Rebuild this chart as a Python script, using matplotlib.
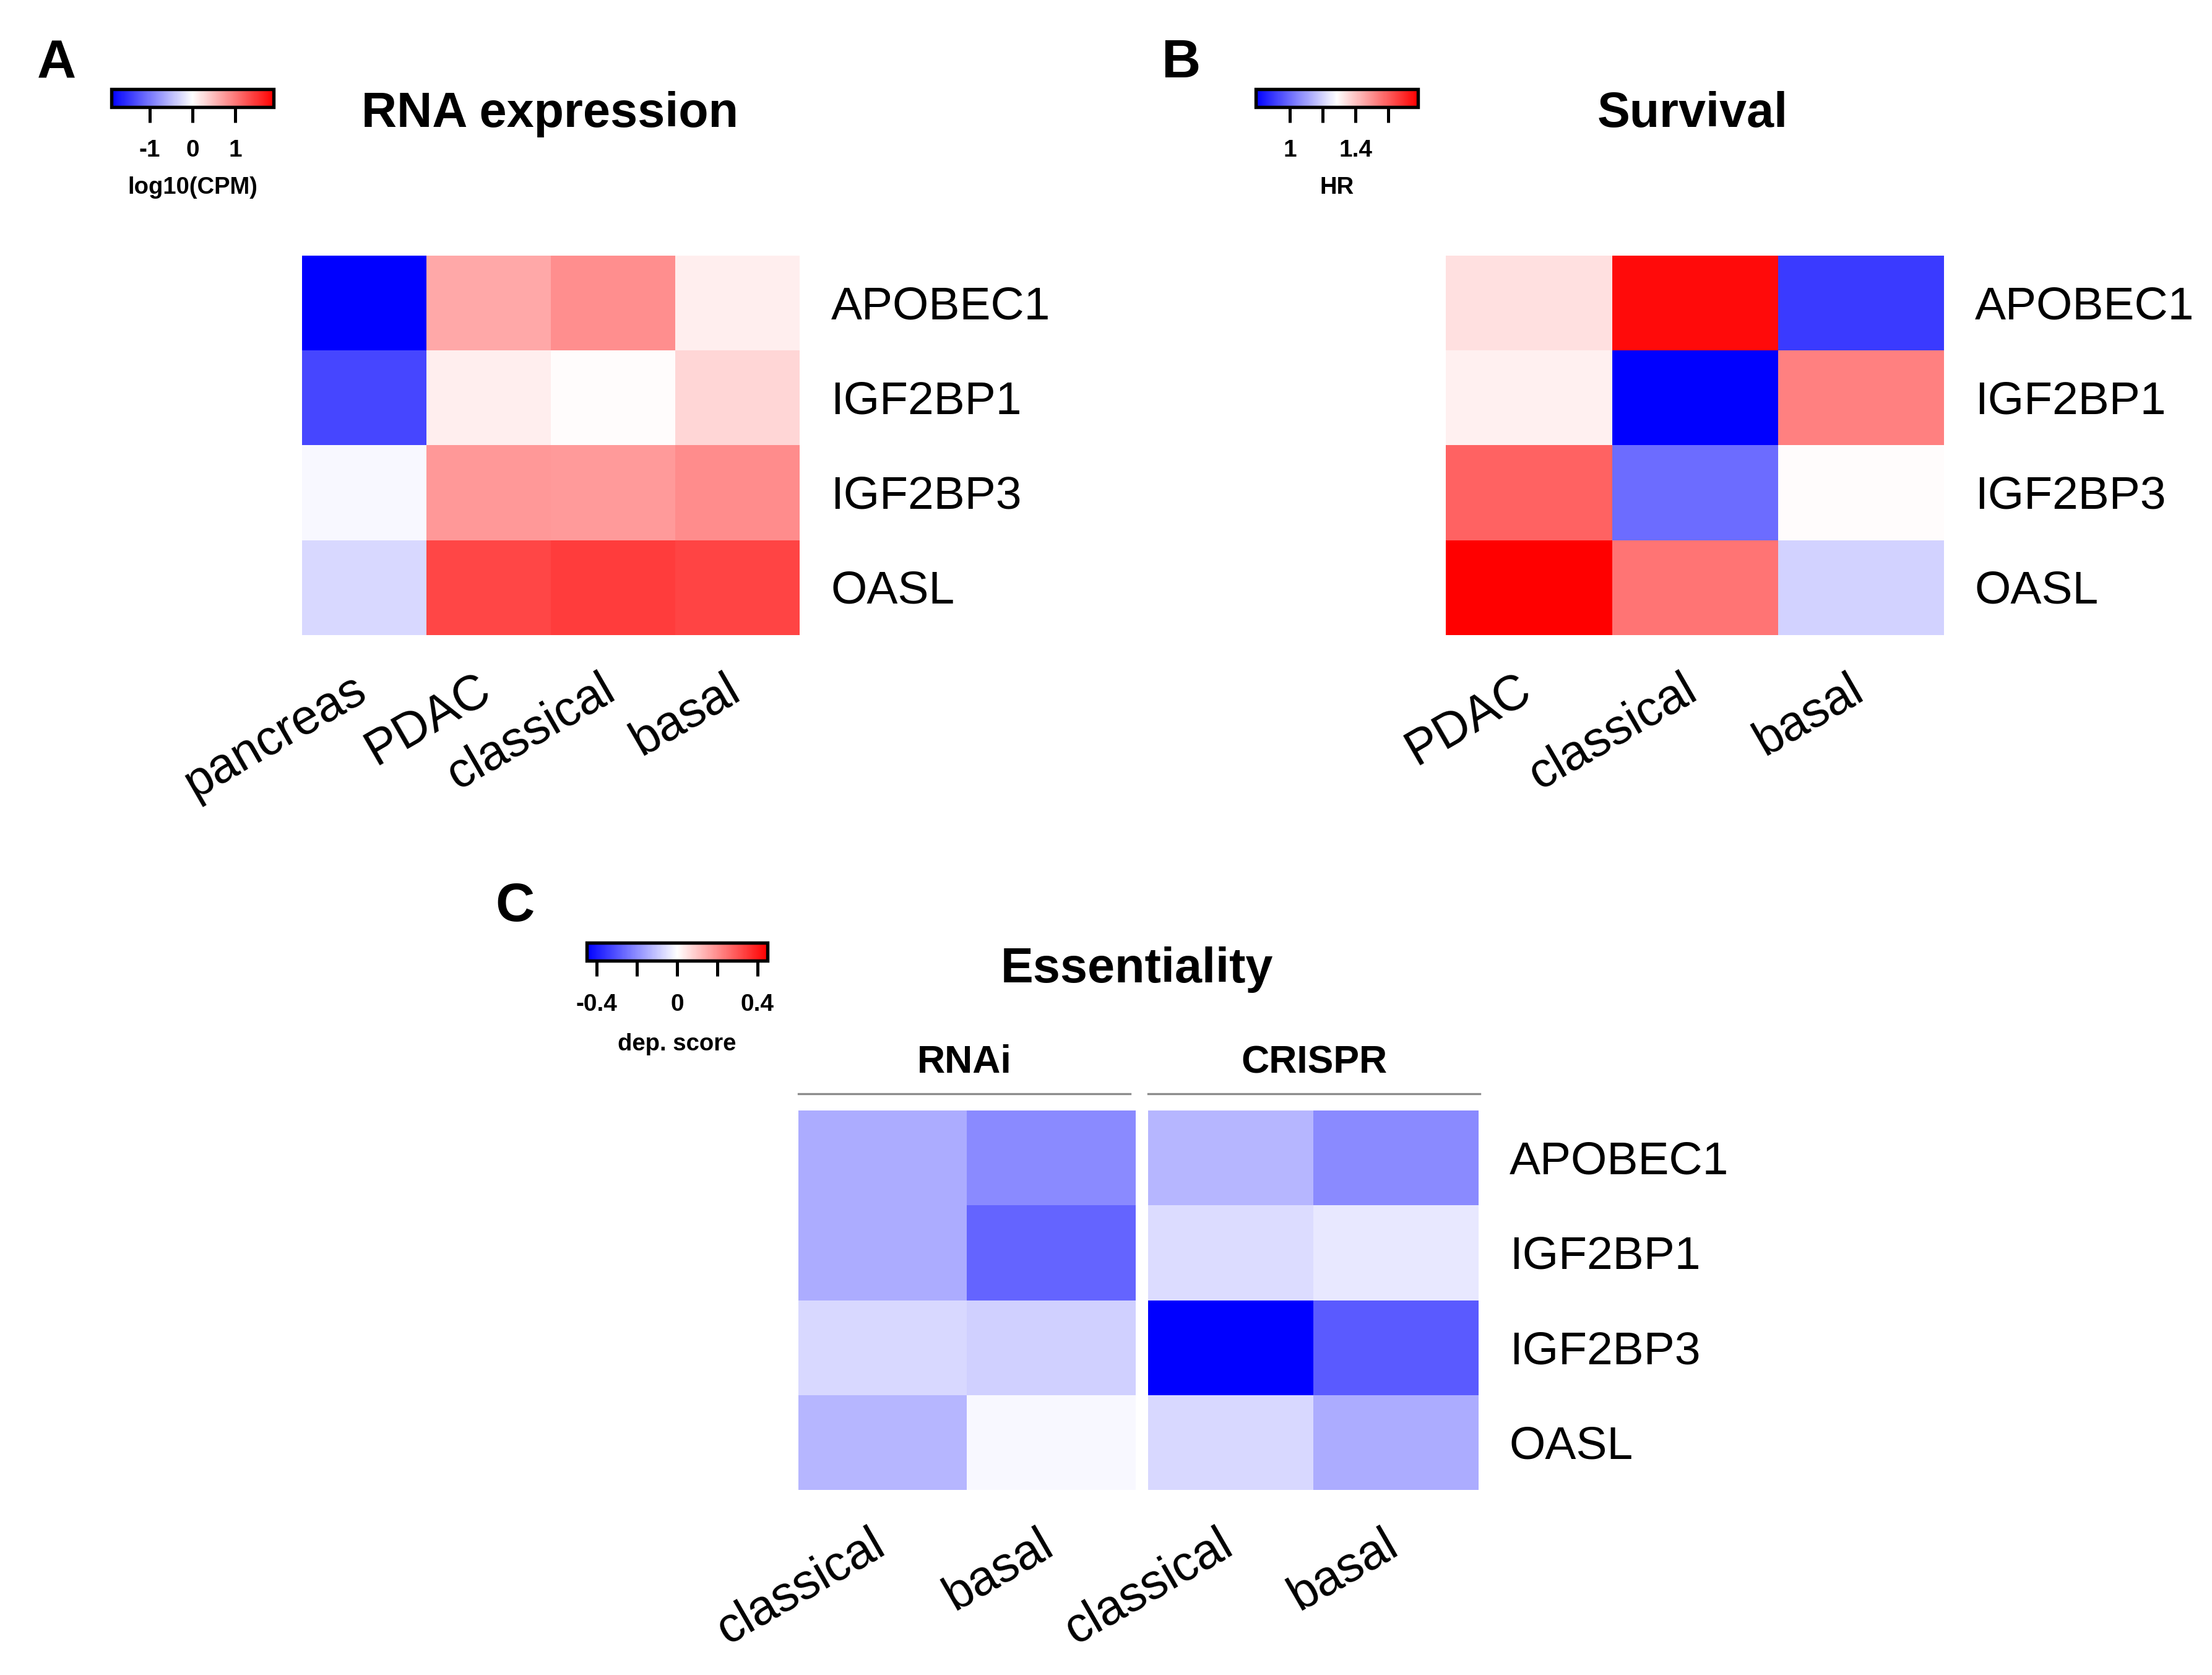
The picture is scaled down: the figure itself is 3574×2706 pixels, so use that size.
import numpy as np
import matplotlib
matplotlib.use("Agg")
import matplotlib.pyplot as plt
from matplotlib.colors import LinearSegmentedColormap, Normalize
from matplotlib.cm import ScalarMappable

plt.rcParams["font.family"] = ["Liberation Sans", "DejaVu Sans"]

# genes (rows)
genes = ["APOBEC1", "IGF2BP1", "IGF2BP3", "OASL"]

# A: RNA expression, log10(CPM)
rna_groups = ["pancreas", "PDAC", "classical", "basal"]
rna_pancreas = [-1.9, -1.37, -0.05, -0.29]
rna_pdac = [0.65, 0.13, 0.77, 1.38]
rna_classical = [0.84, 0.02, 0.75, 1.45]
rna_basal = [0.13, 0.31, 0.86, 1.39]

# B: survival, hazard ratio
surv_groups = ["PDAC", "classical", "basal"]
hr_pdac = [1.345, 1.315, 1.59, 1.78]
hr_classical = [1.76, 0.79, 1.0, 1.555]
hr_basal = [0.904, 1.53, 1.29, 1.198]

# C: essentiality, dependency score
ess_groups = ["classical", "basal"]
rnai_classical = [-0.146, -0.146, -0.069, -0.129]
rnai_basal = [-0.206, -0.274, -0.083, -0.012]
crispr_classical = [-0.129, -0.062, -0.45, -0.069]
crispr_basal = [-0.206, -0.041, -0.291, -0.146]

cmap = LinearSegmentedColormap.from_list("bwr_r", ["#0000FF", "#FFFFFF", "#FF0000"])

W, H = 1568.0, 1187.0
fig = plt.figure(figsize=(3574 / 300, 2706 / 300), dpi=300)


def rect(x0, y0, x1, y1):
    # shrunk-pixel box -> figure fraction
    return [x0 / W, 1 - y1 / H, (x1 - x0) / W, (y1 - y0) / H]


def heat(box, cols, names, norm, labels=True):
    ax = fig.add_axes(rect(*box))
    data = np.array(cols).T
    ax.pcolormesh(data, cmap=cmap, norm=norm)
    ax.set_xlim(0, data.shape[1])
    ax.set_ylim(data.shape[0], 0)
    ax.axis("off")
    for j, n in enumerate(names):
        ax.annotate(n, xy=(j + 0.5, data.shape[0]), xycoords="data",
                    xytext=(-5, -12), textcoords="offset points",
                    rotation=30, rotation_mode="anchor", ha="right", va="top",
                    fontsize=19)
    if labels:
        for i, g in enumerate(genes):
            ax.annotate(g, xy=(data.shape[1], i + 0.5), xycoords="data",
                        xytext=(12, -1.5), textcoords="offset points",
                        ha="left", va="center", fontsize=18)
    return ax


def cbar(box, norm, ticks, ticklabels, title, title_y):
    cax = fig.add_axes(rect(*box))
    cb = fig.colorbar(ScalarMappable(norm=norm, cmap=cmap), cax=cax, orientation="horizontal")
    cb.set_ticks(ticks)
    cb.set_ticklabels(ticklabels)
    cb.outline.set_linewidth(1.3)
    cax.tick_params(direction="out", length=6, width=1.2, pad=6.5, labelsize=9.3)
    for t in cax.get_xticklabels():
        t.set_fontweight("bold")
    fig.text((box[0] + box[2]) / 2 / W, 1 - title_y / H, title, ha="center", va="center",
             fontsize=9.2, fontweight="bold")


# panel A
norm_rna = Normalize(-1.9, 1.9)
heat((214, 181, 567, 450), [rna_pancreas, rna_pdac, rna_classical, rna_basal], rna_groups, norm_rna)
cbar((79, 63, 194, 76), norm_rna, [-1, 0, 1], ["-1", "0", "1"], "log10(CPM)", 133)
fig.text(390 / W, 1 - 81 / H, "RNA expression", ha="center", va="center", fontsize=19, fontweight="bold")
fig.text(40 / W, 1 - 45 / H, "A", ha="center", va="center", fontsize=21, fontweight="bold")

# panel B
norm_hr = Normalize(0.79, 1.78)
heat((1025, 181, 1378, 450), [hr_pdac, hr_classical, hr_basal], surv_groups, norm_hr)
cbar((890, 63, 1005, 76), norm_hr, [1, 1.2, 1.4, 1.6], ["1", "", "1.4", ""], "HR", 133)
fig.text(1200 / W, 1 - 81 / H, "Survival", ha="center", va="center", fontsize=19, fontweight="bold")
fig.text(837 / W, 1 - 45 / H, "B", ha="center", va="center", fontsize=21, fontweight="bold")

# panel C
norm_dep = Normalize(-0.45, 0.45)
heat((566, 787, 805, 1056), [rnai_classical, rnai_basal], ess_groups, norm_dep, labels=False)
heat((814, 787, 1048, 1056), [crispr_classical, crispr_basal], ess_groups, norm_dep)
cbar((416, 668, 544, 681), norm_dep, [-0.4, -0.2, 0, 0.2, 0.4], ["-0.4", "", "0", "", "0.4"], "dep. score", 740)
fig.text(806 / W, 1 - 687 / H, "Essentiality", ha="center", va="center", fontsize=19, fontweight="bold")
fig.text(365 / W, 1 - 643 / H, "C", ha="center", va="center", fontsize=21, fontweight="bold")
fig.text((566 + 801) / 2 / W, 1 - 753 / H, "RNAi", ha="center", va="center", fontsize=15, fontweight="bold")
fig.text((814 + 1049) / 2 / W, 1 - 753 / H, "CRISPR", ha="center", va="center", fontsize=15, fontweight="bold")
for x0, x1 in [(566, 801), (814, 1049)]:
    fig.add_artist(plt.Line2D([x0 / W, x1 / W], [1 - 775 / H, 1 - 775 / H], color="#8c8c8c", lw=0.8))

fig.savefig("out.png", dpi=300, facecolor="white")
